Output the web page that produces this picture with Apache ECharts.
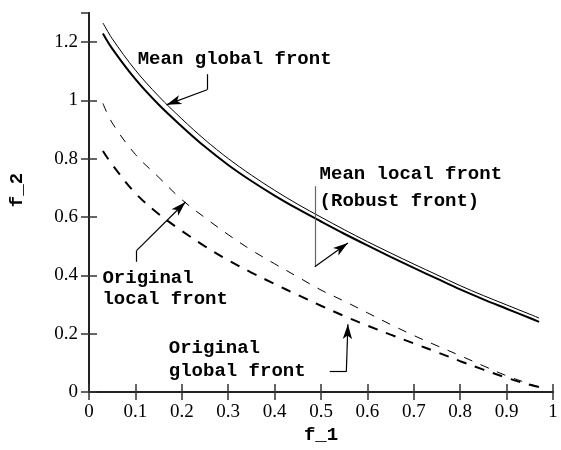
<!DOCTYPE html>
<html>
<head>
<meta charset="utf-8">
<script src="https://cdn.jsdelivr.net/npm/echarts@6/dist/echarts.min.js"></script>
<style>
  html, body { margin: 0; padding: 0; background: #fff; }
  #chart { width: 561px; height: 450px; }
</style>
</head>
<body>
<div id="chart"></div>
<script>
// f_1 sample positions shared by all four fronts
const f1 = [0.03, 0.05, 0.1, 0.15, 0.2, 0.25, 0.3, 0.35, 0.4, 0.45, 0.5,
            0.55, 0.6, 0.65, 0.7, 0.75, 0.8, 0.85, 0.9, 0.95, 0.97];

// f_2 values of each front
const meanGlobal = [1.23, 1.178, 1.073, 0.986, 0.911, 0.841, 0.779, 0.724, 0.674, 0.628, 0.585,
                    0.543, 0.503, 0.464, 0.426, 0.389, 0.352, 0.318, 0.286, 0.254, 0.241];
const meanLocal  = [1.266, 1.212, 1.104, 1.015, 0.937, 0.865, 0.801, 0.744, 0.692, 0.644, 0.6,
                    0.557, 0.516, 0.477, 0.439, 0.402, 0.365, 0.331, 0.299, 0.267, 0.254];
const origLocal  = [0.99, 0.923, 0.815, 0.737, 0.66, 0.598, 0.54, 0.487, 0.44, 0.395, 0.35,
                    0.312, 0.272, 0.232, 0.194, 0.159, 0.125, 0.09, 0.056, 0.028, 0.018];
const origGlobal = [0.827, 0.78, 0.682, 0.611, 0.553, 0.5, 0.452, 0.41, 0.371, 0.333, 0.296,
                    0.261, 0.228, 0.197, 0.167, 0.137, 0.106, 0.077, 0.049, 0.025, 0.017];

// tick labels
const xTicks = [0, 0.1, 0.2, 0.3, 0.4, 0.5, 0.6, 0.7, 0.8, 0.9, 1];
const yTicks = [0, 0.2, 0.4, 0.6, 0.8, 1, 1.2];

// annotation texts, anchored (left, middle) at data coordinates
const notes = [
  { text: 'Mean global front', at: [0.105, 1.142] },
  { text: 'Mean local front',  at: [0.497, 0.748] },
  { text: '(Robust front)',    at: [0.497, 0.656] },
  { text: 'Original',          at: [0.029, 0.392] },
  { text: 'local front',       at: [0.029, 0.319] },
  { text: 'Original',          at: [0.172, 0.152] },
  { text: 'global front',      at: [0.172, 0.072] }
];

// leader lines: plain segments and arrow segments (in data coordinates)
const leaders = [
  { from: [0.2545, 1.09],  to: [0.2545, 1.037], arrow: false, color: '#000' },
  { from: [0.2545, 1.037], to: [0.167, 0.985],  arrow: true,  color: '#000' },
  { from: [0.4866, 0.706], to: [0.4866, 0.43],  arrow: false, color: '#666' },
  { from: [0.4866, 0.43],  to: [0.558, 0.511],  arrow: true,  color: '#000' },
  { from: [0.1029, 0.447], to: [0.1029, 0.486], arrow: false, color: '#000' },
  { from: [0.1029, 0.486], to: [0.208, 0.652],  arrow: true,  color: '#000' },
  { from: [0.5188, 0.070], to: [0.5546, 0.070], arrow: false, color: '#000' },
  { from: [0.5546, 0.070], to: [0.558, 0.233],  arrow: true,  color: '#000' }
];

const pairs = ys => f1.map((x, i) => [x, ys[i]]);

const labelFont = { fontFamily: 'Liberation Serif', fontSize: 19, color: '#000' };
const monoFont = { fontFamily: 'Liberation Mono', fontWeight: 'bold', fontSize: 19, color: '#000' };
const frame = { show: true, lineStyle: { color: '#222', width: 2 } };
const ticks = { show: true, inside: true, length: 8, lineStyle: { color: '#333', width: 1.5 } };

const chart = echarts.init(document.getElementById('chart'), null, { renderer: 'canvas' });

const lineSeries = (name, ys, width, dash) => ({
  name, type: 'line', data: pairs(ys), showSymbol: false,
  smooth: 0.35,
  silent: true,
  lineStyle: { color: '#000', width, type: dash || 'solid' }
});

const markLineData = leaders.map(l => [
  { coord: l.from, symbol: 'none', lineStyle: { color: l.color, width: 1.2, type: 'solid' } },
  { coord: l.to, symbol: l.arrow ? 'arrow' : 'none' }
]);

const first = lineSeries('Mean global front', meanGlobal, 2);
first.markLine = {
  silent: true, animation: false,
  symbolSize: [7, 15],
  label: { show: false },
  emphasis: { disabled: true },
  lineStyle: { color: '#000', width: 1.2, type: 'solid' },
  itemStyle: { color: '#000' },
  data: markLineData
};

chart.setOption({
  animation: false,
  backgroundColor: '#fff',
  grid: { left: 88, right: 8, top: 13, bottom: 56 },
  xAxis: [
    {
      type: 'value', min: 0, max: 1, interval: 0.1, position: 'bottom',
      axisLine: frame, axisTick: ticks, splitLine: { show: false },
      axisLabel: Object.assign({ margin: 10,
        formatter: v => { const t = xTicks.find(t => Math.abs(t - v) < 1e-9); return t === undefined ? '' : String(t); } }, labelFont),
      name: 'f_1', nameLocation: 'middle', nameGap: 32, nameTextStyle: monoFont
    },
    {
      type: 'value', min: 0, max: 1, interval: 0.1, position: 'top',
      axisLine: frame, axisTick: ticks, axisLabel: { show: false }, splitLine: { show: false }
    }
  ],
  yAxis: [
    {
      type: 'value', min: 0, max: 1.3, interval: 0.2, position: 'left',
      axisLine: frame, axisTick: ticks, splitLine: { show: false },
      axisLabel: Object.assign({ margin: 11, showMaxLabel: false,
        formatter: v => { const t = yTicks.find(t => Math.abs(t - v) < 1e-9); return t === undefined ? '' : String(t); } }, labelFont),
      name: 'f_2', nameLocation: 'middle', nameGap: 62, nameRotate: 90,
      nameTextStyle: Object.assign({ padding: [0, 0, 0, 25] }, monoFont)
    },
    {
      type: 'value', min: 0, max: 1.3, interval: 0.2, position: 'right',
      axisLine: frame, axisTick: ticks, axisLabel: { show: false }, splitLine: { show: false }
    }
  ],
  series: [
    first,
    lineSeries('Mean local front', meanLocal, 1),
    lineSeries('Original local front', origLocal, 1, [9, 9]),
    lineSeries('Original global front', origGlobal, 2, [10, 9])
  ]
});

// annotation texts placed through the grid's own coordinate conversion
chart.setOption({
  graphic: notes.map(n => {
    const p = chart.convertToPixel({ gridIndex: 0 }, n.at);
    return {
      type: 'text', x: p[0], y: p[1], silent: true,
      style: { text: n.text, textAlign: 'left', textVerticalAlign: 'middle',
        fill: '#000', font: 'bold 19px "Liberation Mono"' }
    };
  })
});
</script>
</body>
</html>
